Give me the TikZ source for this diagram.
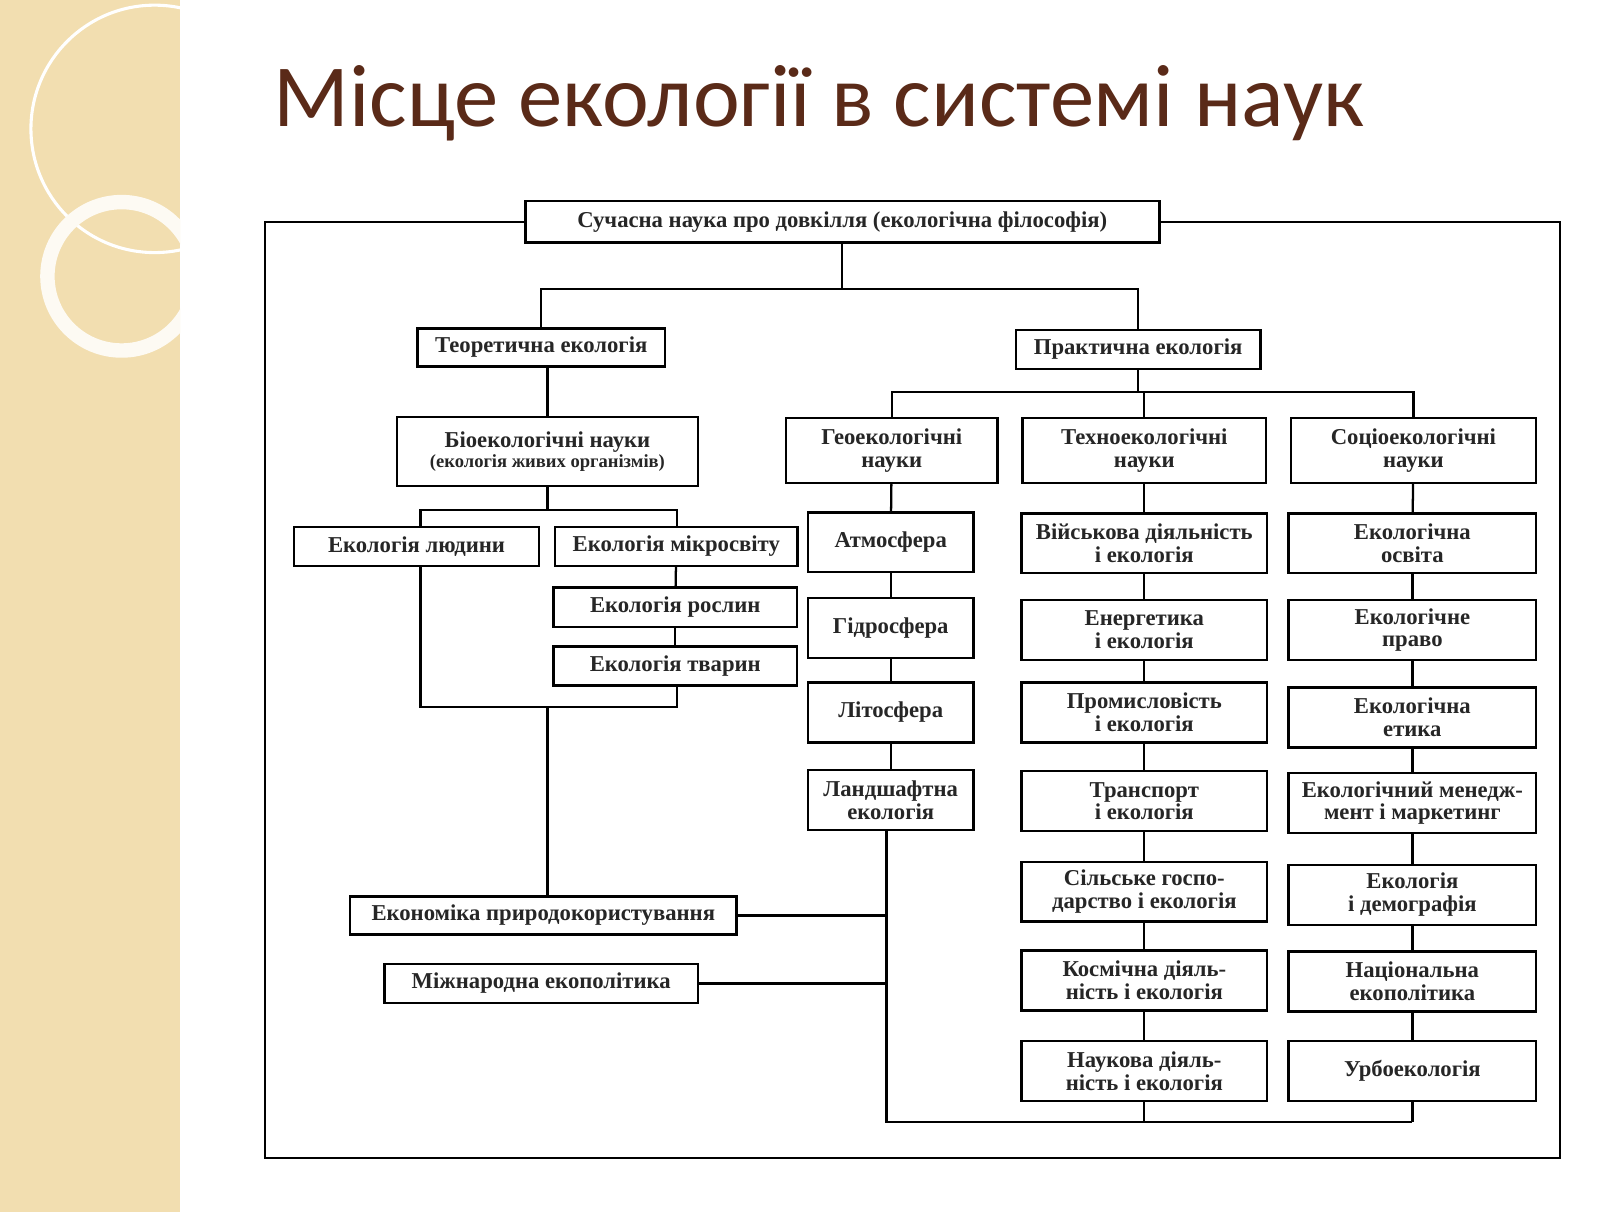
\documentclass[tikz,border=0pt]{standalone}
\usepackage{fontspec}
\setmainfont{Liberation Serif}
\newfontfamily\titlefont{Carlito}
\definecolor{strip}{HTML}{F2DEB0}
\definecolor{titlebrown}{HTML}{5A2A18}
\begin{document}
\begin{tikzpicture}[x=1pt,y=-1pt]
\tikzset{box/.style = {draw, line width=2.4pt, align=center, inner sep=1pt,
  font=\fontsize{22}{22}\selectfont\bfseries, text=black!85}}
\tikzset{edge/.style = {line width=2.2pt}}

% background and strip
\useasboundingbox (0,0) rectangle (1552,1176);
\fill[white] (0,0) rectangle (1552,1176);
\fill[strip] (0,0) rectangle (175,1176);
\begin{scope}
\clip (0,0) rectangle (175,1176);
\draw[white, line width=3pt] (150,125) circle (120);
\draw[white!85!strip, line width=14pt] (118,268) circle (72);
\end{scope}

\node[font=\titlefont\fontsize{86}{86}\selectfont, text=titlebrown, anchor=west] (title) at (262,100) {Місце екології в системі наук};

% top
\node[box, minimum width=615, minimum height=40] (top) at (817,215) {Сучасна наука про довкілля (екологічна філософія)};
\draw[edge] (top.west) -- (257,215) -- (257,1123) -- (1513,1123) -- (1513,215) -- (top.east);

\node[box, minimum width=240, minimum height=37] (theor) at (525,337) {Теоретична екологія};
\node[box, minimum width=237, minimum height=38] (pract) at (1104,339) {Практична екологія};
\coordinate (split) at (817,280);
\draw[edge] (top) -- (split);
\draw[edge] (theor) -- (theor |- split) -- (pract |- split) -- (pract);

% theoretical branch
\node[box, minimum width=292, minimum height=67] (bio) at (531,438) {Біоекологічні науки\\[-3pt]{\fontsize{18}{18}\selectfont(екологія живих організмів)}};
\draw[edge] (theor.south -| bio) -- (bio);
\node[box, minimum width=238, minimum height=38] (human) at (404,530) {Екологія людини};
\node[box, minimum width=235, minimum height=38] (micro) at (656,530) {Екологія мікросвіту};
\node[box, minimum width=236, minimum height=38] (plant) at (655,589) {Екологія рослин};
\node[box, minimum width=236, minimum height=38] (animal) at (655,646) {Екологія тварин};
\coordinate (bsplit) at (531,495);
\coordinate (bjoin) at (531,686);
\draw[edge] (bio) -- (bsplit);
\draw[edge] (408,530 |- human.north) -- (408,495) -- (657,495) -- (657,530 |- micro.north);
\draw[edge] (micro) -- (plant);
\draw[edge] (plant) -- (animal);
\draw[edge] (408,530 |- human.south) -- (408,686) -- (657,686) -- (657,530 |- animal.south);
\node[box, minimum width=375, minimum height=37] (econ) at (527,888) {Економіка природокористування};
\node[box, minimum width=304, minimum height=38] (intl) at (525,954) {Міжнародна екополітика};
\draw[edge] (bjoin) -- (bjoin |- econ.north);

% practical branch
\coordinate (psplit) at (1104,380);
\draw[edge] (pract) -- (psplit);
\node[box, minimum width=205, minimum height=63] (geo) at (865,437) {Геоекологічні\\науки};
\node[box, minimum width=236, minimum height=63] (techno) at (1110,437) {Техноекологічні\\науки};
\node[box, minimum width=238, minimum height=63] (socio) at (1371,437) {Соціоекологічні\\науки};
\draw[edge] (geo) -- (geo |- psplit) -- (socio |- psplit) -- (socio);
\draw[edge] (techno |- psplit) -- (techno);

% geo column
\foreach \n/\y/\t in {atm/526/Атмосфера, hydro/609/Гідросфера, lith/691/Літосфера, land/776/{Ландшафтна\\екологія}}
  {\node[box, minimum width=161, minimum height=58] (\n) at (864,\y) {\t};}
\draw[edge] (geo) -- (atm);
\draw[edge] (atm) -- (hydro);
\draw[edge] (hydro) -- (lith);
\draw[edge] (lith) -- (land);
\coordinate (bottom) at (860,1088);
\draw[edge] (land.south -| bottom) -- (bottom) -- (1370,1088);
\draw[edge] (econ) -- (econ -| bottom);
\draw[edge] (intl) -- (intl -| bottom);

% techno column
\foreach \n/\y/\t in {mil/527/{Військова діяльність\\і екологія}, energy/611/{Енергетика\\і екологія},
  indust/691/{Промисловість\\і екологія}, trans/777/{Транспорт\\і екологія},
  agri/865/{Сільське госпо-\\дарство і екологія}, space/951/{Космічна діяль-\\ність і екологія},
  sci/1039/{Наукова діяль-\\ність і екологія}}
  {\node[box, minimum width=238, minimum height=58] (\n) at (1110,\y) {\t};}
\draw[edge] (techno) -- (mil);
\draw[edge] (mil) -- (energy);
\draw[edge] (energy) -- (indust);
\draw[edge] (indust) -- (trans);
\draw[edge] (trans) -- (agri);
\draw[edge] (agri) -- (space);
\draw[edge] (space) -- (sci);
\draw[edge] (sci) -- (sci |- bottom);

% socio column
\foreach \n/\y/\t in {edu/527/{Екологічна\\освіта}, law/611/{Екологічне\\право},
  ethic/696/{Екологічна\\етика}, manag/779/{Екологічний менедж-\\мент і маркетинг},
  demo/868/{Екологія\\і демографія}, natpol/952/{Національна\\екополітика},
  urban/1039/Урбоекологія}
  {\node[box, minimum width=240, minimum height=58] (\n) at (1370,\y) {\t};}
\draw[edge] (socio) -- (edu);
\draw[edge] (edu) -- (law);
\draw[edge] (law) -- (ethic);
\draw[edge] (ethic) -- (manag);
\draw[edge] (manag) -- (demo);
\draw[edge] (demo) -- (natpol);
\draw[edge] (natpol) -- (urban);
\draw[edge] (urban) -- (urban |- bottom);
\end{tikzpicture}
\end{document}
